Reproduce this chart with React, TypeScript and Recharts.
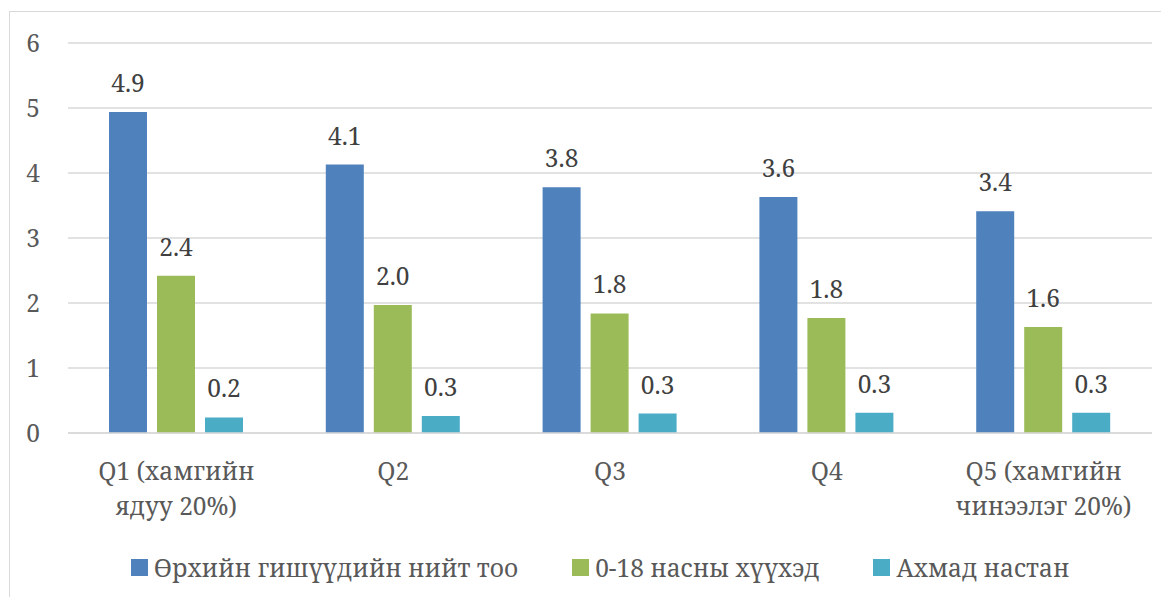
import React from 'react';
import { BarChart, Bar, XAxis, YAxis, CartesianGrid, Legend, LabelList } from 'recharts';

const categories: string[] = ['Q1 (хамгийн\nядуу 20%)', 'Q2', 'Q3', 'Q4', 'Q5 (хамгийн\nчинээлэг 20%)'];
const seriesNames: string[] = ['Өрхийн гишүүдийн нийт тоо', '0-18 насны хүүхэд', 'Ахмад настан'];
const householdSize: number[] = [4.94, 4.13, 3.78, 3.63, 3.41];
const children: number[] = [2.42, 1.97, 1.84, 1.77, 1.63];
const elderly: number[] = [0.24, 0.26, 0.30, 0.31, 0.31];
const yTicks: number[] = [0, 1, 2, 3, 4, 5, 6];

const colors = ['#4F81BD', '#9BBB59', '#4BACC6'];
const font = 'Noto Serif';
const fontSize = 24.5;

const data = categories.map((name, i) => ({
    name,
    a: householdSize[i],
    b: children[i],
    c: elderly[i],
}));

function CategoryTick(props: any) {
    const { x, y, payload } = props;
    const lines: string[] = String(payload.value).split('\n');
    return (
        <text x={x} y={y} textAnchor="middle" fill="#595959" style={{ fontFamily: font, fontSize }}>
            {lines.map((line, i) => (
                <tspan key={i} x={x} y={y + 47 + i * 35}>{line}</tspan>
            ))}
        </text>
    );
}

function LegendBox() {
    return (
        <div style={{ display: 'flex', justifyContent: 'center', alignItems: 'center', height: 40, paddingLeft: 31, fontFamily: font, fontSize, color: '#595959' }}>
            {seriesNames.map((n, i) => (
                <div key={n} style={{ display: 'flex', alignItems: 'center', marginRight: i < seriesNames.length - 1 ? 54 : 0 }}>
                    <span style={{ display: 'inline-block', width: 17, height: 17, background: colors[i], marginRight: 6 }} />
                    <span>{n}</span>
                </div>
            ))}
        </div>
    );
}

const fmt = (v: any) => Number(v).toFixed(1);
const labelStyle = { fontFamily: font, fontSize };

export default function App() {
    return (
        <div style={{ position: 'relative', margin: -8, width: 1169, height: 605, background: '#fff', overflow: 'hidden', fontFamily: font }}>
            <div style={{ position: 'absolute', left: 9, top: 11, right: 0, bottom: 0, borderTop: '1px solid #d9d9d9', borderLeft: '1px solid #d9d9d9' }} />
            <BarChart
                width={1169}
                height={605}
                data={data}
                margin={{ top: 43, right: 17, left: 8, bottom: 18 }}
                barSize={38}
                barGap={10}
                style={{ position: 'absolute', left: 0, top: 0, fontFamily: font }}
            >
                <CartesianGrid vertical={false} stroke="#d9d9d9" strokeWidth={1.5} />
                <XAxis
                    dataKey="name"
                    height={114}
                    interval={0}
                    tickLine={false}
                    tickSize={0}
                    tickMargin={0}
                    axisLine={{ stroke: '#d9d9d9', strokeWidth: 1.5 }}
                    tick={<CategoryTick />}
                />
                <YAxis
                    width={60}
                    domain={[0, 6]}
                    ticks={yTicks}
                    axisLine={false}
                    tickLine={false}
                    tickSize={0}
                    tickMargin={28}
                    tick={{ fill: '#595959', style: labelStyle }}
                />
                <Legend verticalAlign="bottom" content={<LegendBox />} wrapperStyle={{ left: 0, width: 1169 }} />
                <Bar dataKey="a" name={seriesNames[0]} fill={colors[0]} isAnimationActive={false}>
                    <LabelList dataKey="a" position="top" offset={20} formatter={fmt} fill="#404040" style={labelStyle} />
                </Bar>
                <Bar dataKey="b" name={seriesNames[1]} fill={colors[1]} isAnimationActive={false}>
                    <LabelList dataKey="b" position="top" offset={20} formatter={fmt} fill="#404040" style={labelStyle} />
                </Bar>
                <Bar dataKey="c" name={seriesNames[2]} fill={colors[2]} isAnimationActive={false}>
                    <LabelList dataKey="c" position="top" offset={20} formatter={fmt} fill="#404040" style={labelStyle} />
                </Bar>
            </BarChart>
        </div>
    );
}
